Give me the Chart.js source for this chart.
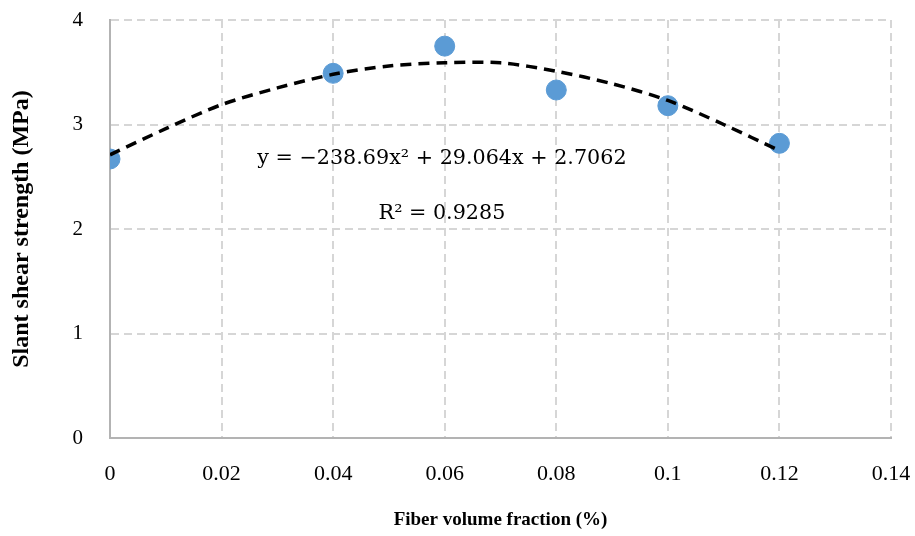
<!DOCTYPE html>
<html>
<head>
<meta charset="utf-8">
<script src="https://cdn.jsdelivr.net/npm/chart.js@4.4.0/dist/chart.umd.min.js"></script>
<style>
  html, body { margin: 0; padding: 0; background: #ffffff; }
  #wrap { width: 915px; height: 536px; position: relative; }
</style>
</head>
<body>
<div id="wrap"><canvas id="c" width="915" height="536"></canvas></div>
<script>
// Measured data points
const fiberFraction = [0, 0.04, 0.06, 0.08, 0.10, 0.12];
const shearStrength = [2.67, 3.49, 3.75, 3.33, 3.18, 2.82];

// Trend line
const trendX = [0, 0.01, 0.02, 0.03, 0.04, 0.05, 0.06, 0.07, 0.08, 0.09, 0.10, 0.11, 0.12];
const trendY = [2.71, 2.96, 3.19, 3.35, 3.48, 3.56, 3.59, 3.59, 3.51, 3.39, 3.23, 3.00, 2.75];

const equationText = 'y = \u2212238.69x\u00B2 + 29.064x + 2.7062';
const r2Text = 'R\u00B2 = 0.9285';

const xTicks = [0, 0.02, 0.04, 0.06, 0.08, 0.1, 0.12, 0.14];
const yTicks = [0, 1, 2, 3, 4];

const serif = '"Liberation Serif", "Times New Roman", serif';
const mathSerif = '"DejaVu Serif", serif';

const labelPlugin = {
  id: 'eqLabels',
  afterDatasetsDraw(chart) {
    const ctx = chart.ctx;
    const xs = chart.scales.x, ys = chart.scales.y;
    ctx.save();
    ctx.fillStyle = '#000';
    ctx.font = '20.7px ' + mathSerif;
    ctx.textAlign = 'center';
    ctx.textBaseline = 'middle';
    ctx.fillText(equationText, xs.getPixelForValue(0.0595), ys.getPixelForValue(2.67));
    ctx.fillText(r2Text, xs.getPixelForValue(0.0595), ys.getPixelForValue(2.15));
    ctx.restore();
  }
};

new Chart(document.getElementById('c'), {
  type: 'scatter',
  data: {
    datasets: [
      {
        label: 'Trend',
        type: 'line',
        data: trendX.map((x, i) => ({ x: x, y: trendY[i] })),
        borderColor: '#000000',
        borderWidth: 3.5,
        borderDash: [11, 7],
        pointRadius: 0,
        tension: 0.3,
        fill: false,
        order: 0
      },
      {
        label: 'Slant shear strength',
        data: fiberFraction.map((x, i) => ({ x: x, y: shearStrength[i] })),
        backgroundColor: '#5b9bd5',
        borderColor: '#5b9bd5',
        pointRadius: 10,
        pointHoverRadius: 10,
        order: 1
      }
    ]
  },
  options: {
    responsive: false,
    animation: false,
    devicePixelRatio: 1,
    layout: { autoPadding: false, padding: { left: 0, right: 24, top: 20, bottom: 0 } },
    plugins: { legend: { display: false }, tooltip: { enabled: false } },
    scales: {
      x: {
        type: 'linear',
        min: 0, max: 0.14,
        afterBuildTicks: (s) => { s.ticks = xTicks.map(v => ({ value: v })); },
        afterFit: (s) => { s.height = 98; s.paddingLeft = 0; s.paddingRight = 0; },
        grid: { color: '#d6d6d6', lineWidth: 2, drawTicks: false },
        border: { display: true, color: '#b3b3b3', width: 2, dash: [8, 5] },
        ticks: {
          padding: 23,
          color: '#000',
          font: { family: serif, size: 22 },
          callback: (v) => String(v)
        },
        title: {
          display: true,
          text: 'Fiber volume fraction (%)',
          color: '#000',
          font: { family: serif, size: 19, weight: 'bold' },
          padding: { top: 0, bottom: 5 }
        }
      },
      y: {
        min: 0, max: 4,
        afterBuildTicks: (s) => { s.ticks = yTicks.map(v => ({ value: v })); },
        afterFit: (s) => { s.width = 110; s.paddingTop = 0; s.paddingBottom = 0; },
        grid: { color: '#d6d6d6', lineWidth: 2, drawTicks: false },
        border: { display: true, color: '#b3b3b3', width: 2, dash: [8, 5] },
        ticks: {
          padding: 27,
          color: '#000',
          font: { family: serif, size: 21 }
        },
        title: {
          display: true,
          text: 'Slant shear strength (MPa)',
          color: '#000',
          font: { family: serif, size: 24, weight: 'bold' },
          padding: { top: 7, bottom: 0 }
        }
      }
    }
  },
  plugins: [labelPlugin]
});
</script>
</body>
</html>
